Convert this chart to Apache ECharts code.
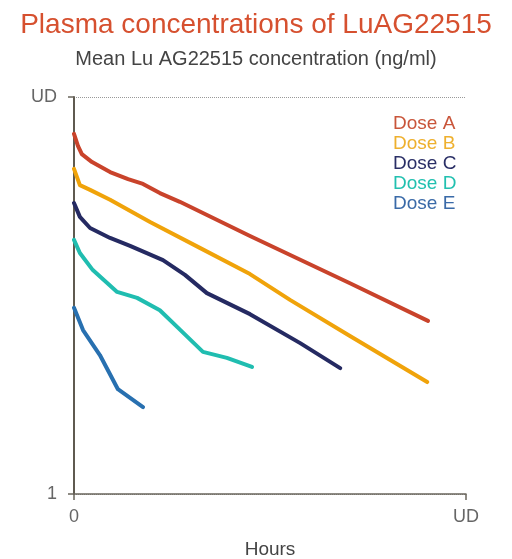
<!DOCTYPE html>
<html>
<head>
<meta charset="utf-8">
<script src="https://cdn.jsdelivr.net/npm/echarts@6/dist/echarts.min.js"></script>
<style>html,body{margin:0;padding:0;background:#fff;}#c{width:512px;height:559px;}</style>
</head>
<body>
<div id="c"></div>
<script>
// Axis units: x 0 = time 0, 100 = "UD"; y 0 = "1", 100 = "UD" (log-scaled position)
var seriesNames = ['Dose A', 'Dose B', 'Dose C', 'Dose D', 'Dose E'];
var xTickLabels = {0: '0', 100: 'UD'};
var yTickLabels = {0: '1', 100: 'UD'};

var doseA = [[0,90.7],[1.0,87.7],[2.0,85.6],[4.6,83.6],[9.2,81.1],[13.8,79.3],[17.6,78.1],[21.9,75.8],[27.0,73.6],[44.9,65.0],[70.4,53.1],[90.3,43.6]];
var doseB = [[0,81.9],[1.5,77.8],[4.1,76.6],[9.2,74.1],[19.4,68.5],[32.1,62.0],[44.9,55.4],[55.1,48.9],[70.4,39.8],[90.1,28.2]];
var doseC = [[0,73.3],[1.5,69.8],[4.1,67.0],[9.2,64.5],[14.3,62.5],[22.7,58.9],[28.3,55.2],[33.9,50.6],[44.9,45.3],[57.7,38.0],[67.9,31.7]];
var doseD = [[0,64.0],[1.5,60.7],[4.8,56.4],[11.0,50.9],[16.1,49.4],[21.9,46.3],[26.3,42.1],[32.9,35.8],[39.0,34.3],[45.4,32.0]];
var doseE = [[0,46.9],[2.3,41.3],[6.6,35.0],[11.2,26.4],[17.6,21.9]];

var lineColors = ['#c9432b', '#f0a30a', '#252a62', '#20bdb0', '#2870b0'];
var legendColors = ['#c9553a', '#eeb02e', '#2a2f66', '#22c0b0', '#3a6aa8'];
var allData = [doseA, doseB, doseC, doseD, doseE];

var font = 'Liberation Sans, Arial, sans-serif';
var chart = echarts.init(document.getElementById('c'), null, {renderer: 'canvas'});
chart.setOption({
  animation: false,
  backgroundColor: '#fff',
  title: [{
    text: 'Plasma concentrations of LuAG22515',
    left: 'center', top: 6,
    textStyle: {color: '#d6502f', fontSize: 28, fontWeight: 'normal', fontFamily: font}
  }, {
    text: 'Mean Lu AG22515 concentration (ng/ml)',
    left: 'center', top: 44,
    textStyle: {color: '#444', fontSize: 20, fontWeight: 'normal', fontFamily: font}
  }],
  legend: {
    orient: 'vertical', left: 383, top: 109,
    icon: 'none', itemWidth: 0, itemHeight: 0, itemGap: 1,
    data: seriesNames.map(function (n, i) {
      return {name: n, textStyle: {color: legendColors[i]}};
    }),
    textStyle: {fontSize: 19, fontFamily: font}
  },
  grid: {left: 74, right: 46, top: 97, bottom: 65, containLabel: false, outerBoundsMode: 'none'},
  xAxis: {
    type: 'value', min: 0, max: 100, interval: 100,
    name: 'Hours', nameLocation: 'middle', nameGap: 46,
    nameTextStyle: {color: '#444', fontSize: 19, fontFamily: font},
    axisLine: {lineStyle: {color: '#6a665c', width: 1.5}},
    axisTick: {show: true, length: 6, lineStyle: {color: '#6a665c', width: 1.5}},
    axisLabel: {color: '#666', fontSize: 18, fontFamily: font, margin: 14,
      formatter: function (v) { return xTickLabels[v] || ''; }},
    splitLine: {show: false}
  },
  yAxis: {
    type: 'value', min: 0, max: 100, interval: 100,
    axisLine: {show: true, lineStyle: {color: '#5f5a50', width: 2}},
    axisTick: {show: true, length: 6, lineStyle: {color: '#6a665c', width: 1.5}},
    axisLabel: {color: '#666', fontSize: 18, fontFamily: font, margin: 17,
      formatter: function (v) { return yTickLabels[v] || ''; }},
    splitLine: {show: true, lineStyle: {type: 'dotted', color: '#999', width: 1}}
  },
  series: allData.map(function (d, i) {
    return {
      name: seriesNames[i], type: 'line', data: d, showSymbol: false, symbol: 'none',
      color: lineColors[i],
      lineStyle: {color: lineColors[i], width: 4, cap: 'round', join: 'round'}
    };
  })
});
</script>
</body>
</html>
